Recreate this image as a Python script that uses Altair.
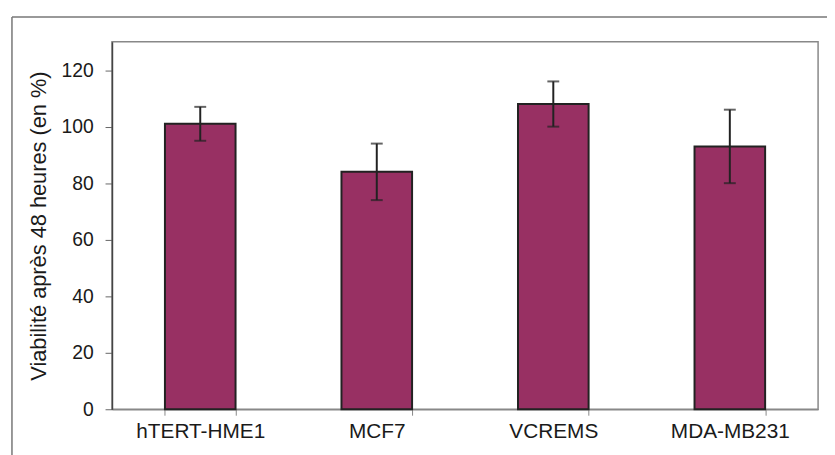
import altair as alt
import pandas as pd

categories = ["hTERT-HME1", "MCF7", "VCREMS", "MDA-MB231"]
values = [101, 84, 108, 93]
errors = [6, 10, 8, 13]

df = pd.DataFrame({"cat": categories, "val": values, "err": errors})
df["lo"] = df["val"] - df["err"]
df["hi"] = df["val"] + df["err"]

FONT = "Liberation Sans"

x = alt.X("cat:N", sort=categories, title=None,
          scale=alt.Scale(paddingInner=0.6, paddingOuter=0.3),
          axis=alt.Axis(labelAngle=0, tickBand="extent", labelFontSize=21,
                        labelFont=FONT, labelColor="#1a1a1a", labelPadding=6,
                        tickSize=6, tickColor="#888", domainColor="#888",
                        domainWidth=1.5, grid=False))

y_scale = alt.Scale(domain=[0, 130], nice=False)

base = alt.Chart(df)

bars = base.mark_bar(color="#983063", stroke="#222", strokeWidth=2).encode(
    x=x,
    y=alt.Y("val:Q", scale=y_scale, title="Viabilité après 48 heures (en %)",
            axis=alt.Axis(values=[0, 20, 40, 60, 80, 100, 120], labelFontSize=19.5,
                          labelFont=FONT, labelColor="#1a1a1a", titleFont=FONT,
                          titleFontSize=22, titleFontWeight="normal", titleColor="#1a1a1a",
                          titlePadding=11, tickSize=7, tickColor="#666",
                          domainColor="#444", domainWidth=1.5, grid=False,
                          labelPadding=12)),
)

rule = base.mark_rule(color="#222", strokeWidth=2).encode(
    x=alt.X("cat:N", sort=categories), y="lo:Q", y2="hi:Q")
cap_lo = base.mark_tick(color="#222", size=12, thickness=2).encode(
    x=alt.X("cat:N", sort=categories), y="lo:Q")
cap_hi = base.mark_tick(color="#222", size=12, thickness=2).encode(
    x=alt.X("cat:N", sort=categories), y="hi:Q")

frame_data = alt.Data(values=[{"a": 1}])
frame_top = alt.Chart(frame_data).mark_rule(color="#777", strokeWidth=1.5).encode(
    x=alt.value(-101), x2=alt.value(730), y=alt.value(-25))
frame_left = alt.Chart(frame_data).mark_rule(color="#777", strokeWidth=1.5).encode(
    x=alt.value(-101), y=alt.value(-25), y2=alt.value(430))

chart = alt.layer(bars, rule, cap_lo, cap_hi, frame_top, frame_left).properties(
    width=713, height=371,
    autosize=alt.AutoSizeParams(type="none"),
    padding={"left": 105, "top": 32, "right": 9, "bottom": 44},
    background="white",
).configure_view(stroke="#888", strokeWidth=1.5)

chart.save("out.html", embed_options={"renderer": "svg", "actions": False})
